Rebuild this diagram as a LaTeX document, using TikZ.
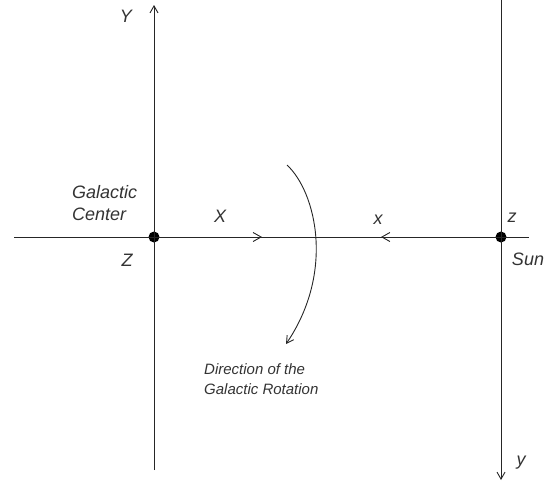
\documentclass[tikz,border=0pt]{standalone}
\usepackage{fontspec}
\setmainfont{Liberation Sans}
\usetikzlibrary{arrows.meta}

\begin{document}
\begin{tikzpicture}[
  x=1pt, y=-1pt,
  axis/.style={line width=1pt, black!85},
  midtip/.style={line width=1pt, black!85, -{Straight Barb[length=8pt,width=9pt,line width=0.9pt]}},
  endtip/.style={line width=1pt, black!85, -{Straight Barb[length=7pt,width=8pt,line width=0.9pt]}},
  dot/.style={circle, fill=black, inner sep=0pt, minimum size=11pt},
  lbl/.style={inner sep=0pt, text=black!80, font=\fontsize{18}{22}\selectfont\itshape},
  note/.style={inner sep=0pt, text=black!80, align=left, font=\fontsize{15}{20}\selectfont\itshape}
]
\useasboundingbox (0,0) rectangle (553,483);

% the two points
\node[dot] (gc) at (154,237) {};
\node[dot] (sun) at (501,237) {};

% axis ends
\coordinate (west) at (14,237);
\coordinate (east) at (529,237);
\coordinate (gcbot) at (154,470);
\coordinate (gctop) at (154,5);
\coordinate (suntop) at (501,0);
\coordinate (sunbot) at (501,480);
\coordinate (xtip) at (262,237);
\coordinate (xsun) at (381,237);

% Galactic frame
\draw[axis] (west) -- (east);
\draw[endtip] (gcbot) -- (gctop);
\draw[midtip] (gc) -- (xtip);

% heliocentric frame
\draw[endtip] (suntop) -- (sunbot);
\draw[midtip] (sun) -- (xsun);

% rotation
\coordinate (rotA) at (287,165);
\coordinate (rotB) at (286,344);
\draw[endtip, line width=0.9pt] (rotA) .. controls (316,192) and (335,272) .. (rotB);

% labels
\node[lbl] (ylab) at (126,16) {Y};
\node[lbl, align=left, anchor=north west] (gclab) at (72,185) {Galactic\\Center};
\node[lbl] (zlab) at (127,260) {Z};
\node[lbl] (xlab) at (220,216) {X};
\node[lbl] (xslab) at (378,220) {x};
\node[lbl] (zslab) at (512,218) {z};
\node[lbl] (sunlab) at (528,259) {Sun};
\node[lbl] (yslab) at (521,463) {y};
\node[note, anchor=north west] (rotlab) at (204,363) {Direction of the\\Galactic Rotation};

\end{tikzpicture}
\end{document}
